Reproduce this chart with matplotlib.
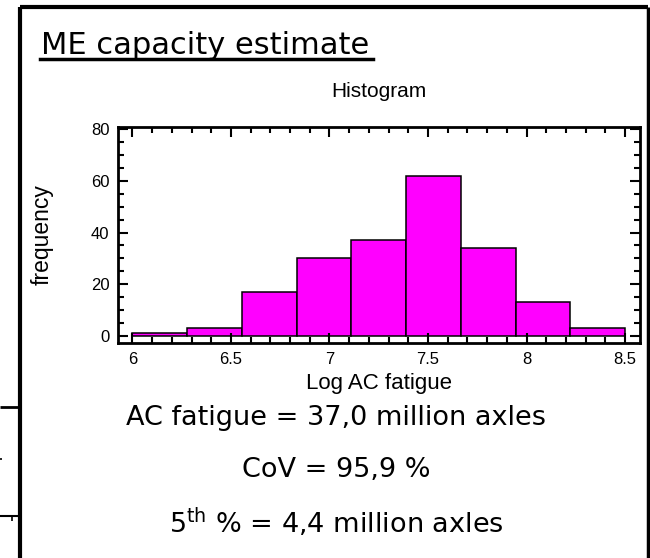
import matplotlib
matplotlib.use("Agg")
import matplotlib.pyplot as plt
from matplotlib.lines import Line2D
from matplotlib.ticker import MultipleLocator, FormatStrFormatter

# Histogram data (Log AC fatigue)
bin_edges = [6.0 + i * 2.5 / 9 for i in range(10)]
counts = [1, 3, 17, 30, 37, 62, 34, 13, 3]

title_text = "ME capacity estimate"
summary_lines = ["AC fatigue = 37,0 million axles",
                 "CoV = 95,9 %",
                 r"5$^{\mathrm{th}}$ % = 4,4 million axles"]

plt.rcParams['mathtext.fontset'] = 'dejavusans'

W, H = 650, 558
fig = plt.figure(figsize=(W / 100, H / 100), dpi=100)

def fx(px):
    return px / W

def fy(py):
    return 1 - py / H

# outer frame of the slide box
for xs, ys, lw in [([19.5, 19.5], [7, 558], 3),
                   ([19.5, 648], [7, 7], 3),
                   ([648, 648], [7, 558], 2.5),
                   # fragments of the neighbouring box
                   ([0, 19], [407, 407], 2),
                   ([0, 19], [516, 516], 1.5),
                   ([12, 12], [516, 521], 1.2),
                   ([0, 2], [459, 459], 1.2)]:
    fig.add_artist(Line2D([fx(x) for x in xs], [fy(y) for y in ys],
                          color="black", lw=lw, solid_capstyle="butt"))

# heading with underline
fig.text(fx(41), fy(45), title_text, fontsize=22, family="DejaVu Sans",
         ha="left", va="center")
fig.add_artist(Line2D([fx(40), fx(373)], [fy(59), fy(59)], color="black", lw=2.5))

ax = fig.add_axes([fx(117.7), fy(342.7), fx(640) - fx(117.7), fy(126.7) - fy(342.7)])
widths = [bin_edges[i + 1] - bin_edges[i] for i in range(len(counts))]
ax.bar(bin_edges[:-1], counts, width=widths, align="edge", color="#ff00ff",
       edgecolor="black", linewidth=1.1)
ax.set_xlim(5.925, 8.576)
ax.set_ylim(-2.6, 80.9)
ax.xaxis.set_major_locator(MultipleLocator(0.5))
ax.xaxis.set_minor_locator(MultipleLocator(0.1))
ax.xaxis.set_major_formatter(FormatStrFormatter("%g"))
ax.yaxis.set_major_locator(MultipleLocator(20))
ax.yaxis.set_minor_locator(MultipleLocator(5))
ax.tick_params(which="both", direction="in", top=True, right=True, width=1.5,
               labelsize=12, labelfontfamily="Liberation Sans")
ax.tick_params(which="major", length=7)
ax.tick_params(which="minor", length=4)
ax.tick_params(axis="x", pad=7)
ax.tick_params(axis="y", pad=6)
for sp in ax.spines.values():
    sp.set_linewidth(2)

ax.text(0.5, 1.165, "Histogram", transform=ax.transAxes, fontsize=15,
        family="Liberation Sans", ha="center", va="center")
ax.set_xlabel("Log AC fatigue", fontsize=16, family="Liberation Sans", va="center")
ax.xaxis.set_label_coords(0.5, -0.187)
ax.set_ylabel("frequency", fontsize=16.5, family="Liberation Sans", va="center")
ax.yaxis.set_label_coords(-0.145, 0.5)

for i, line in enumerate(summary_lines):
    fig.text(fx(336), fy(418 + 52 * i), line, fontsize=19.5, family="DejaVu Sans",
             ha="center", va="center")

plt.savefig("out.png", dpi=100)
